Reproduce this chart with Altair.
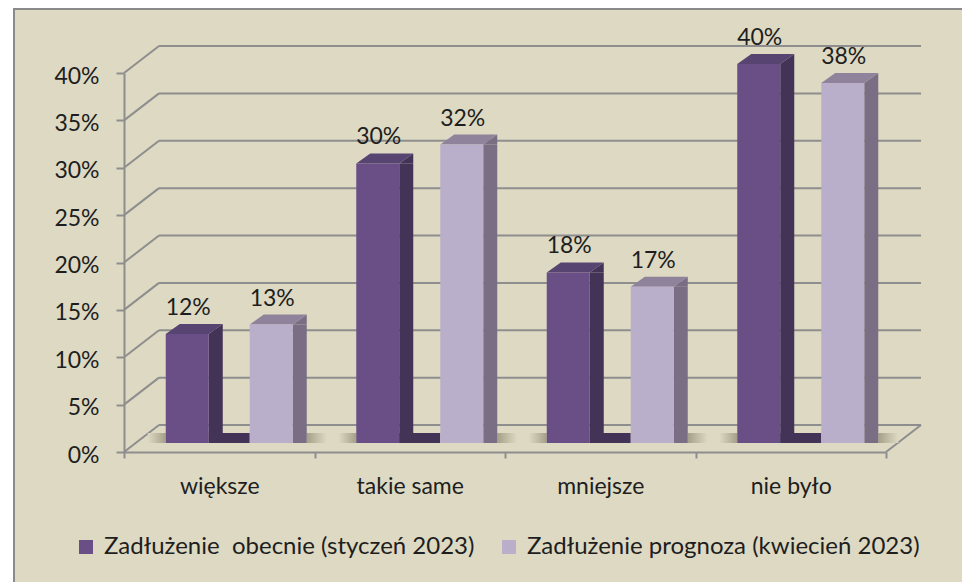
import altair as alt
import pandas as pd

categories = ["większe", "takie same", "mniejsze", "nie było"]
series_names = ["Zadłużenie \u00a0obecnie (styczeń 2023)", "Zadłużenie prognoza (kwiecień 2023)"]
current = [0.115, 0.295, 0.180, 0.400]
forecast = [0.125, 0.315, 0.165, 0.380]
current_labels = ["12%", "30%", "18%", "40%"]
forecast_labels = ["13%", "32%", "17%", "38%"]
y_ticks = [0.0, 0.05, 0.10, 0.15, 0.20, 0.25, 0.30, 0.35, 0.40]

rows = []
for i, c in enumerate(categories):
    rows.append({"category": c, "series": series_names[0], "value": current[i], "label": current_labels[i], "base": 0.0})
    rows.append({"category": c, "series": series_names[1], "value": forecast[i], "label": forecast_labels[i], "base": 0.0})
df = pd.DataFrame(rows)
grid_df = pd.DataFrame({"t": y_ticks})

W, H = 762, 379
BACK_DX, BACK_DY = 35, -27
SHIFT_Y = -9
FONT = "Lato"
TXT = "#1e1e1e"
GRID = "#8e8e8e"
BG = "#ddd9c3"

styles = [
    {"front": "#6a4f86", "side": "#433357", "top": "#574470", "off": -32},
    {"front": "#b9afca", "side": "#7a6e84", "top": "#8e839a", "off": 52},
]

x_scale = alt.Scale(domain=categories, paddingInner=0, paddingOuter=0)
y_scale = alt.Scale(domain=[0, 0.4], nice=False, zero=True)

y_axis = alt.Axis(
    values=y_ticks, format=".0%", title=None, grid=False, zindex=1,
    domainColor=GRID, domainWidth=2, tickColor=GRID, tickWidth=2, tickSize=8,
    labelFont=FONT, labelFontSize=23, labelColor=TXT, labelPadding=17, labelOffset=3
)
x_axis = alt.Axis(
    title=None, grid=False, labelAngle=0, tickBand="extent", zindex=1,
    domainColor=GRID, domainWidth=2, tickColor=GRID, tickWidth=2, tickSize=6,
    labelFont=FONT, labelFontSize=23, labelColor=TXT, labelPadding=17
)

def X():
    return alt.X("category:N", sort=categories, scale=x_scale, axis=x_axis)

def Y(field="value"):
    return alt.Y(f"{field}:Q", scale=y_scale, axis=y_axis)

frame = alt.Chart(alt.Data(values=[{"a": 1}])).mark_rect(
    fill=BG, stroke="#8a8a8a", strokeWidth=2
).encode(
    x=alt.value(-110), x2=alt.value(962 - 124 + 60),
    y=alt.value(-64), y2=alt.value(582 - 73 + 60)
)

gridlines = alt.Chart(grid_df).mark_rule(
    color=GRID, strokeWidth=2, xOffset=BACK_DX, x2Offset=BACK_DX, yOffset=BACK_DY
).encode(
    x=alt.value(0), x2=alt.value(W), y=Y("t")
)

diagonals = alt.Chart(grid_df).mark_rule(
    color=GRID, strokeWidth=2, y2Offset=BACK_DY
).encode(
    x=alt.value(0), x2=alt.value(BACK_DX), y=Y("t"), y2="t:Q"
)

floor_edge = alt.Chart(pd.DataFrame({"t": [0.0]})).mark_rule(
    color=GRID, strokeWidth=2, y2Offset=BACK_DY
).encode(
    x=alt.value(W), x2=alt.value(W + BACK_DX), y=Y("t"), y2="t:Q"
)

layers = [frame, gridlines, diagonals, floor_edge]

SH = "#a4a088"
grad_left = alt.LinearGradient(
    gradient="linear", x1=0, x2=1, y1=0, y2=0,
    stops=[alt.GradientStop(color=BG, offset=0), alt.GradientStop(color=SH, offset=1)]
)
grad_right = alt.LinearGradient(
    gradient="linear", x1=0, x2=1, y1=0, y2=0,
    stops=[alt.GradientStop(color=SH, offset=0), alt.GradientStop(color=BG, offset=1)]
)

for si, st in enumerate(styles):
    sub = alt.Chart(df).transform_filter(alt.datum.series == series_names[si])
    off = st["off"]
    if si == 0:
        layers.append(sub.mark_bar(width=18, xOffset=off - 21.5 - 9, yOffset=SHIFT_Y,
                                   y2Offset=SHIFT_Y - 10, color=grad_left).encode(
            x=X(), y=Y("base"), y2="base:Q"))
        layers.append(sub.mark_bar(width=41, xOffset=off + 21.5 + 20.5, yOffset=SHIFT_Y,
                                   y2Offset=SHIFT_Y - 10, color=st["side"]).encode(
            x=X(), y=Y("base"), y2="base:Q"))
    else:
        layers.append(sub.mark_bar(width=20, xOffset=off + 35.5 + 10, yOffset=SHIFT_Y,
                                   y2Offset=SHIFT_Y - 10, color=grad_right).encode(
            x=X(), y=Y("base"), y2="base:Q"))
    layers.append(sub.mark_bar(width=14, xOffset=off + 28.5, yOffset=SHIFT_Y,
                               y2Offset=SHIFT_Y - 10, color=st["side"]).encode(x=X(), y=Y()))
    layers.append(sub.mark_point(
        shape="M0.43,0 L0.71,-0.2 L0.71,0 Z", size=10000, filled=True, opacity=1,
        color=st["side"], strokeWidth=0, xOffset=off, yOffset=SHIFT_Y).encode(x=X(), y=Y()))
    layers.append(sub.mark_point(
        shape="M-0.43,0 L0.43,0 L0.71,-0.2 L-0.15,-0.2 Z", size=10000, filled=True, opacity=1,
        color=st["top"], strokeWidth=0, xOffset=off, yOffset=SHIFT_Y).encode(x=X(), y=Y()))

for si, st in enumerate(styles):
    sub = alt.Chart(df).transform_filter(alt.datum.series == series_names[si])
    off = st["off"]
    layers.append(sub.mark_bar(width=43, xOffset=off, yOffset=SHIFT_Y, y2Offset=SHIFT_Y).encode(
        x=X(), y=Y(),
        color=alt.Color("series:N", scale=alt.Scale(domain=series_names,
                                                     range=[styles[0]["front"], styles[1]["front"]]),
                        legend=alt.Legend(title=None))
    ))
    layers.append(sub.mark_text(font=FONT, fontSize=23, color=TXT, baseline="alphabetic",
                                align="center", xOffset=off + 1, yOffset=SHIFT_Y - 19).encode(
        x=X(), y=Y(), text="label:N"))

chart = alt.layer(*layers).properties(
    width=W, height=H,
    padding={"left": 124, "top": 73, "right": 962 - 124 - W, "bottom": 582 - 73 - H},
    autosize=alt.AutoSizeParams(type="none"),
    background="white",
).configure_view(stroke=None).configure_legend(
    orient="none", legendX=-50, legendY=462, direction="horizontal",
    labelFont=FONT, labelFontSize=24, labelColor=TXT, symbolType="square",
    symbolSize=196, symbolStrokeWidth=0, columnPadding=22, labelOffset=6,
    padding=0, labelLimit=0, zindex=1
)

chart.save("out.html", embed_options={"renderer": "svg", "actions": False})
